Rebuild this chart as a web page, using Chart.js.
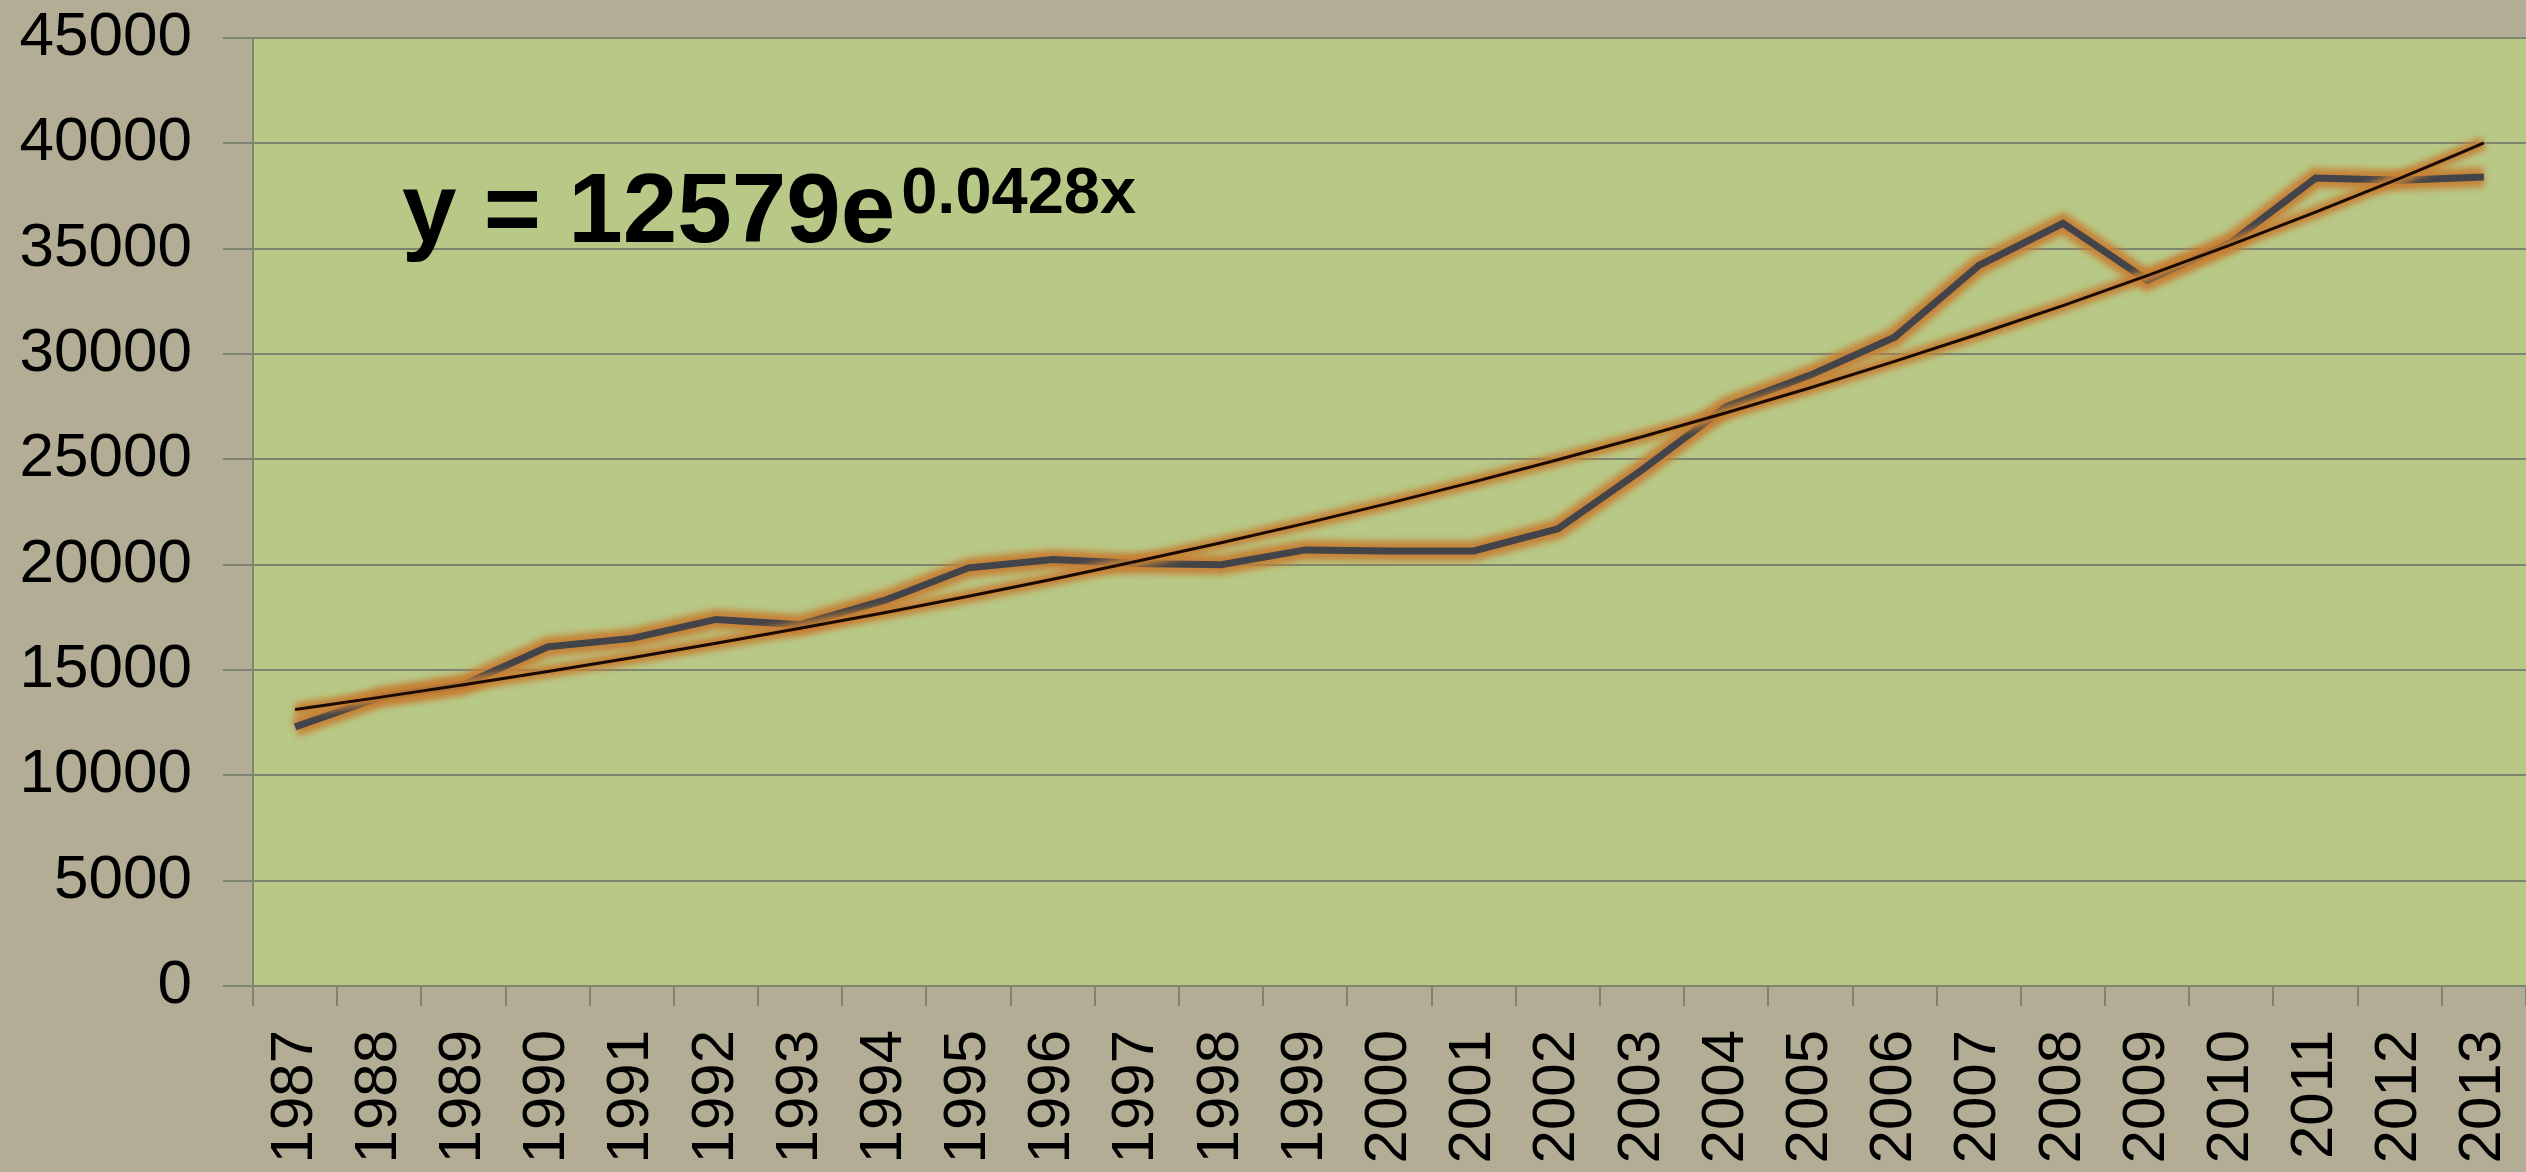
<!DOCTYPE html>
<html>
<head>
<meta charset="utf-8">
<title>Trend 1987-2013</title>
<script src="https://cdn.jsdelivr.net/npm/chart.js@4.4.1/dist/chart.umd.min.js"></script>
<style>
  html, body { margin: 0; padding: 0; background: #b3ad95; }
  #wrap { width: 2526px; height: 1172px; position: relative; }
</style>
</head>
<body>
<div id="wrap"><canvas id="trendChart"></canvas></div>
<script>
const years = ['1987', '1988', '1989', '1990', '1991', '1992', '1993', '1994', '1995',
  '1996', '1997', '1998', '1999', '2000', '2001', '2002', '2003', '2004', '2005',
  '2006', '2007', '2008', '2009', '2010', '2011', '2012', '2013'];

const values = [12300, 13700, 14300, 16100, 16500, 17400, 17150, 18300, 19850,
  20250, 20050, 20000, 20700, 20650, 20650, 21700, 24500, 27500, 29000,
  30800, 34200, 36200, 33500, 35300, 38350, 38250, 38400];

// trendline
const trendValues = [13130, 13700, 14300, 14930, 15580, 16270, 16980, 17720, 18500,
  19310, 20160, 21040, 21960, 22920, 23930, 24980, 26070, 27210, 28400,
  29650, 30950, 32300, 33720, 35190, 36730, 38340, 40020];

const yTicks = [0, 5000, 10000, 15000, 20000, 25000, 30000, 35000, 40000, 45000];

const equationMain = 'y = 12579e';
const equationExp = '0.0428x';

const fontFamily = '"Liberation Sans", Arial, sans-serif';
const gridColor = '#7d8570';
const glowColor = 'rgba(198, 128, 52, 0.95)';

// green fill behind the plot area
const plotBackground = {
    id: 'plotBackground',
    beforeDraw(chart) {
        const { ctx, chartArea: a } = chart;
        ctx.save();
        ctx.fillStyle = '#b8c886';
        ctx.fillRect(a.left, a.top, a.right - a.left, a.bottom - a.top);
        ctx.restore();
    }
};

// blur the wide "glow" copies of the lines
const glow = {
    id: 'glow',
    beforeDatasetDraw(chart, args) {
        if (!args.meta._dataset.glow) return;
        chart.ctx.save();
        chart.ctx.filter = 'blur(3px)';
    },
    afterDatasetDraw(chart, args) {
        if (!args.meta._dataset.glow) return;
        chart.ctx.restore();
    }
};

// trendline equation
const equationLabel = {
    id: 'equationLabel',
    afterDraw(chart) {
        const { ctx, chartArea: a } = chart;
        const x = a.left + 149;
        const base = a.top + 204;
        ctx.save();
        ctx.fillStyle = '#000';
        ctx.textAlign = 'left';
        ctx.textBaseline = 'alphabetic';
        ctx.font = 'bold 98px ' + fontFamily;
        ctx.fillText(equationMain, x, base);
        const w = ctx.measureText(equationMain).width;
        ctx.font = 'bold 65px ' + fontFamily;
        ctx.fillText(equationExp, x + w + 6, base - 29);
        ctx.restore();
    }
};

const ctx = document.getElementById('trendChart').getContext('2d');
const trendChart = new Chart(ctx, {
    type: 'line',
    data: {
        labels: years,
        datasets: [
            {
                label: 'Trend',
                data: trendValues,
                borderColor: '#1a0802',
                borderWidth: 3,
                pointRadius: 0,
                cubicInterpolationMode: 'monotone',
                order: 0
            },
            {
                label: 'Trend glow',
                data: trendValues,
                glow: true,
                borderColor: glowColor,
                borderWidth: 13,
                pointRadius: 0,
                cubicInterpolationMode: 'monotone',
                order: 1
            },
            {
                label: 'Values',
                data: values,
                borderColor: '#43444a',
                borderWidth: 7,
                pointRadius: 0,
                tension: 0,
                order: 2
            },
            {
                label: 'Values glow',
                data: values,
                glow: true,
                borderColor: glowColor,
                borderWidth: 20,
                pointRadius: 0,
                tension: 0,
                order: 3
            }
        ]
    },
    options: {
        responsive: true,
        maintainAspectRatio: false,
        animation: false,
        layout: { padding: 0 },
        plugins: {
            legend: { display: false },
            tooltip: { enabled: false }
        },
        scales: {
            x: {
                offset: true,
                grid: {
                    offset: true,
                    drawOnChartArea: false,
                    drawTicks: true,
                    tickLength: 20,
                    color: gridColor,
                    lineWidth: 2
                },
                border: { color: gridColor, width: 2 },
                ticks: {
                    autoSkip: false,
                    minRotation: 90,
                    maxRotation: 90,
                    padding: 24,
                    color: '#000',
                    font: { family: fontFamily, size: 60 }
                },
                afterFit(scale) {
                    scale.height = 186;
                    scale.paddingLeft = 0;
                    scale.paddingRight = 0;
                    scale.paddingTop = 0;
                    scale.paddingBottom = 0;
                }
            },
            y: {
                min: 0,
                max: 45000,
                afterBuildTicks(scale) {
                    scale.ticks = yTicks.map(v => ({ value: v }));
                },
                grid: { color: gridColor, lineWidth: 2, tickLength: 30 },
                border: { color: gridColor, width: 2 },
                ticks: {
                    padding: 31,
                    color: '#000',
                    font: { family: fontFamily, size: 62 },
                    callback: value => String(value)
                },
                afterFit(scale) {
                    scale.width = 253;
                    scale.paddingTop = 38;
                    scale.paddingBottom = 0;
                }
            }
        }
    },
    plugins: [plotBackground, glow, equationLabel]
});
</script>
</body>
</html>
